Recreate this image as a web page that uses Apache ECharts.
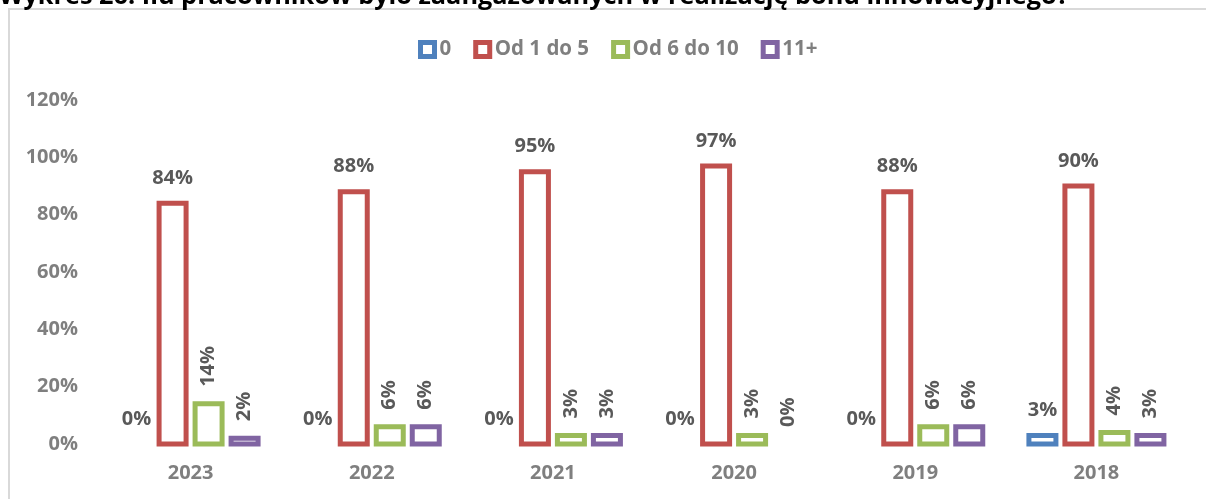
<!DOCTYPE html>
<html>
<head>
<meta charset="utf-8">
<script src="https://cdn.jsdelivr.net/npm/echarts@6/dist/echarts.min.js"></script>
<style>
  html, body { margin: 0; padding: 0; background: #fff; }
  #chart { width: 1206px; height: 499px; }
</style>
</head>
<body>
<div id="chart"></div>
<script>
const years = ['2023', '2022', '2021', '2020', '2019', '2018'];
const seriesNames = ['0', 'Od 1 do 5', 'Od 6 do 10', '11+'];
const zero = [0, 0, 0, 0, 0, 3];
const oneToFive = [84, 88, 95, 97, 88, 90];
const sixToTen = [14, 6, 3, 3, 6, 4];
const elevenPlus = [2, 6, 3, 0, 6, 3];
const yTicks = [0, 20, 40, 60, 80, 100, 120];

const colors = ['#4F81BD', '#C0504D', '#9BBB59', '#8064A2'];
const rotatedLabels = [false, false, true, true];
const fontName = '"Open Sans", Lato, sans-serif';

// Excel-style outlined bars: stroke centred on the edge, so thin bars still show the white inside
function renderBar(params, api) {
  const si = params.seriesIndex;
  const val = api.value(1);
  const base = api.coord([api.value(0), 0]);
  const top = api.coord([api.value(0), val]);
  const cx = base[0] + (si - 1.5) * 36;
  const children = [];
  if (val > 0) {
    children.push({
      type: 'rect',
      shape: { x: cx - 13.5, y: top[1], width: 27, height: base[1] - top[1] },
      style: { fill: '#ffffff', stroke: colors[si], lineWidth: 5 }
    });
  }
  const labelStyle = {
    text: val + '%',
    fill: '#595959',
    font: 'bold 20px ' + fontName,
    verticalAlign: 'middle'
  };
  if (rotatedLabels[si]) {
    children.push({
      type: 'text', x: cx, y: top[1] - 17, rotation: Math.PI / 2,
      style: Object.assign({ align: 'left' }, labelStyle)
    });
  } else {
    children.push({
      type: 'text', x: cx, y: top[1] - 25,
      style: Object.assign({ align: 'center' }, labelStyle)
    });
  }
  return { type: 'group', children: children };
}

function makeSeries(name, values, color) {
  return {
    name: name,
    type: 'custom',
    renderItem: renderBar,
    encode: { x: 0, y: 1 },
    itemStyle: { color: color },
    data: values.map((v, i) => [i, v])
  };
}

const chart = echarts.init(document.getElementById('chart'));
chart.setOption({
  animation: false,
  color: colors,
  graphic: [{
    type: 'rect',
    shape: { x: 9, y: 9, width: 1300, height: 600 },
    style: { fill: 'none', stroke: '#d9d9d9', lineWidth: 2 },
    silent: true,
    z: -1
  }, {
    type: 'text',
    x: -1,
    y: -3,
    style: {
      text: 'Wykres 26. Ilu pracowników było zaangażowanych w realizację bonu innowacyjnego?',
      font: 'bold 25.3px ' + fontName,
      fill: '#000000',
      verticalAlign: 'middle'
    },
    silent: true
  }],
  legend: {
    data: seriesNames.map((n, i) => ({
      name: n,
      itemStyle: { color: '#ffffff', borderColor: colors[i], borderWidth: 5 }
    })),
    top: 34,
    left: 413,
    icon: 'rect',
    itemWidth: 14,
    itemHeight: 14,
    itemGap: 22,
    textStyle: { fontFamily: fontName, fontWeight: 'bold', fontSize: 20.5, color: '#7f7f7f', padding: [0, 0, 0, 0] }
  },
  grid: { left: 100, right: 19, top: 100, bottom: 55, containLabel: false },
  xAxis: {
    type: 'category',
    data: years,
    axisLine: { show: false },
    axisTick: { show: false },
    axisLabel: { margin: 19, fontFamily: fontName, fontWeight: 'bold', fontSize: 20, color: '#7f7f7f' }
  },
  yAxis: {
    type: 'value',
    min: yTicks[0],
    max: yTicks[yTicks.length - 1],
    interval: 20,
    splitLine: { show: false },
    axisLine: { show: false },
    axisTick: { show: false },
    axisLabel: { margin: 22, formatter: '{value}%', fontFamily: fontName, fontWeight: 'bold', fontSize: 20, color: '#7f7f7f' }
  },
  series: [
    makeSeries(seriesNames[0], zero, colors[0]),
    makeSeries(seriesNames[1], oneToFive, colors[1]),
    makeSeries(seriesNames[2], sixToTen, colors[2]),
    makeSeries(seriesNames[3], elevenPlus, colors[3])
  ]
});
</script>
</body>
</html>
